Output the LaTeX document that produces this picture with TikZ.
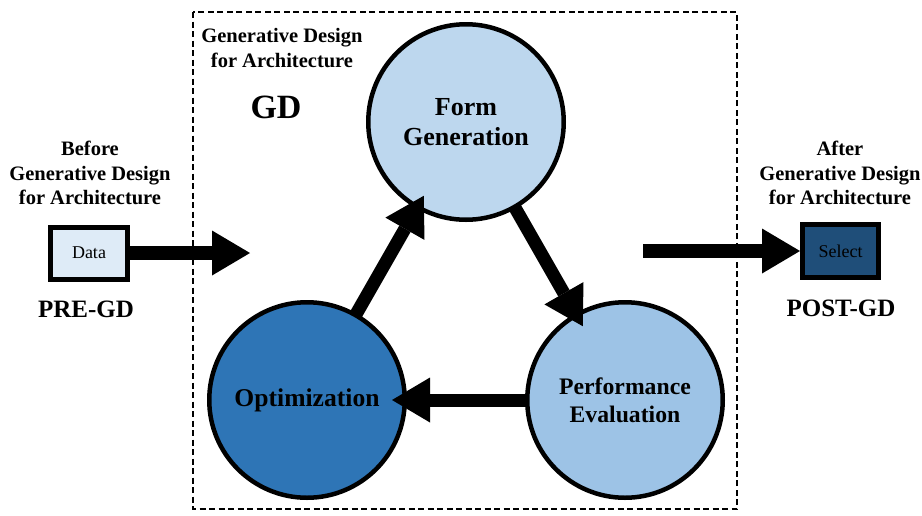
\documentclass[tikz,border=0pt]{standalone}
\usepackage{fontspec}
\setmainfont{Liberation Serif}
\usetikzlibrary{arrows.meta}
\definecolor{formfill}{HTML}{BDD7EE}
\definecolor{perffill}{HTML}{9DC3E6}
\definecolor{optfill}{HTML}{2E75B6}
\definecolor{datafill}{HTML}{DEEBF7}
\definecolor{selectfill}{HTML}{1F4E79}

\begin{document}
\begin{tikzpicture}[x=1pt,y=-1pt,
  stage/.style={circle, draw=black, line width=4.5pt, minimum size=195.5pt,
    outer sep=0pt, inner sep=0pt, align=center,
    font=\fontsize{26}{30}\selectfont\bfseries},
  io/.style={rectangle, draw=black, line width=5pt, outer sep=0pt, inner sep=0pt,
    font=\fontsize{18}{21}\selectfont},
  phaselabel/.style={align=center, inner sep=0pt,
    font=\fontsize{20.5}{24.5}\selectfont\bfseries},
  tag/.style={inner sep=0pt, font=\fontsize{25}{30}\selectfont\bfseries},
  flow/.style={line width=13pt,
    -{Triangle[length=38pt 0 0, width=45pt 0 0, line width=0pt]}},
]
\useasboundingbox (0,0) rectangle (922,515);

% dashed frame around the generative design loop
\draw[line width=2.8pt, dash pattern=on 6pt off 3.5pt] (193,12) rectangle (737,509);

% the three stages of the loop
\node[stage, fill=formfill] (form) at (466,122) {Form\\Generation};
\node[stage, fill=optfill, font=\fontsize{25.6}{30}\selectfont\bfseries] (opt) at (307,400) {Optimization};
\node[stage, fill=perffill, font=\fontsize{23.7}{28}\selectfont\bfseries] (perf) at (625,400) {Performance\\Evaluation};

% input and output boxes
\node[io, fill=datafill, minimum width=77pt, minimum height=52pt] (data) at (89,253) {Data};
\node[io, fill=selectfill, minimum width=76pt, minimum height=53pt] (select) at (840.5,251) {Select};

% labels
\node[phaselabel] (gdname) at (282,48) {Generative Design\\for Architecture};
\node[tag, font=\fontsize{34}{40}\selectfont\bfseries] (gd) at (276,107.5) {GD};
\node[phaselabel] (before) at (90,173) {Before\\Generative Design\\for Architecture};
\node[phaselabel] (after) at (840,173) {After\\Generative Design\\for Architecture};
\node[tag] (pre) at (86,309) {PRE-GD};
\node[tag] (post) at (841,308.5) {POST-GD};

% flows into and out of the loop
\coordinate (inend) at (250,253);
\coordinate (outstart) at (643,251);
\draw[flow, line width=14.5pt] (data.east) -- (inend);
\draw[flow, line width=14pt, shorten >=2.5pt] (outstart) -- (select.west);

% the loop itself
\draw[flow, shorten >=-12.75pt] (opt) -- (form);
\draw[flow, shorten >=-12.75pt] (form) -- (perf);
\draw[flow, shorten >=-12.75pt] (perf) -- (opt);
\end{tikzpicture}
\end{document}
